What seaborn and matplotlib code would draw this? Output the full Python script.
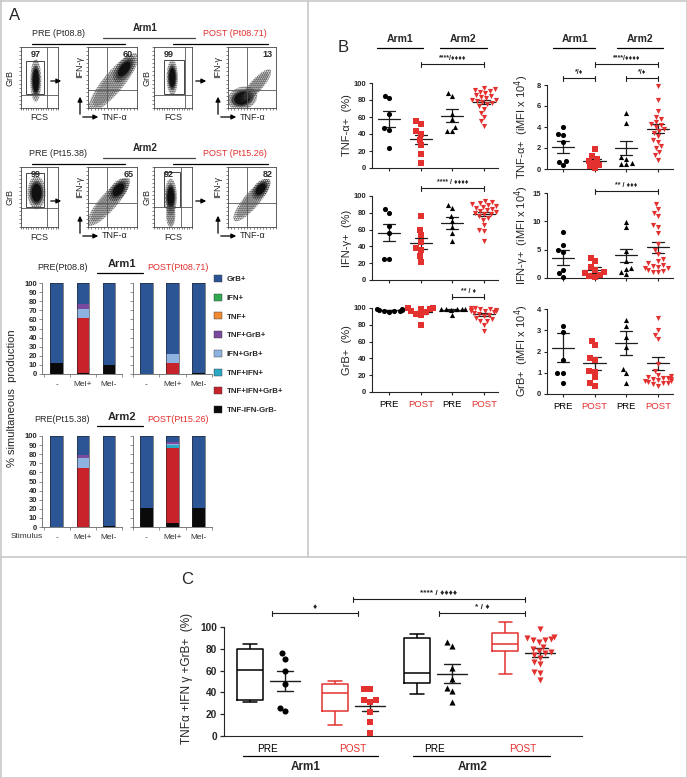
import numpy as np
import pandas as pd
import seaborn as sns
import matplotlib.pyplot as plt
from matplotlib.lines import Line2D
from matplotlib.patches import Ellipse, Rectangle, Patch, FancyArrowPatch
from matplotlib.transforms import blended_transform_factory

sns.set_style("ticks")
plt.rcParams["font.family"] = ["Liberation Sans", "DejaVu Sans"]
plt.rcParams["hatch.linewidth"] = 0.9
plt.rcParams["axes.linewidth"] = 0.8

W, H = 687, 778
RED = "#e2312e"
DARK = "#1e1e1e"
FRAME = "#c8c8c8"

# ---------------- data: panel A, flow plots ----------------
flow_pct_arm1 = [97, 60, 99, 13]
flow_pct_arm2 = [99, 65, 92, 82]
# event clouds: (x, y, width, height, angle, dense) in plot fractions
flow_pops_arm1 = [
    [(0.40, 0.45, 0.22, 0.48, 0, 1)],
    [(0.52, 0.42, 1.00, 0.26, 43, 0), (0.74, 0.64, 0.42, 0.20, 43, 1)],
    [(0.48, 0.50, 0.22, 0.40, 0, 1)],
    [(0.30, 0.16, 0.46, 0.26, 10, 1), (0.58, 0.36, 0.60, 0.16, 40, 0)],
]
flow_pops_arm2 = [
    [(0.42, 0.57, 0.36, 0.38, 0, 1)],
    [(0.42, 0.42, 0.85, 0.22, 42, 0), (0.62, 0.62, 0.36, 0.20, 40, 1)],
    [(0.44, 0.50, 0.24, 0.42, 0, 1), (0.44, 0.20, 0.18, 0.28, 0, 0)],
    [(0.50, 0.45, 0.75, 0.20, 42, 0), (0.68, 0.63, 0.32, 0.18, 40, 1)],
]
flow_quads_arm1 = [(0.69, 0.21), (0.38, 0.30), (0.82, 0.21), (0.39, 0.30)]
flow_quads_arm2 = [(0.69, 0.32), (0.38, 0.40), (0.72, 0.33), (0.39, 0.40)]
flow_gates_arm1 = [(0.14, 0.23, 0.62, 0.77), None, (0.27, 0.23, 0.80, 0.79), None]
flow_gates_arm2 = [(0.14, 0.33, 0.62, 0.90), None, (0.25, 0.34, 0.69, 0.92), None]

# ---------------- data: panel A, stacked bars ----------------
stimuli = ["-", "Mel+", "Mel-"]
subsets = ["TNF-IFN-GrB-", "TNF+IFN+GrB+", "TNF+IFN+", "IFN+GrB+",
           "TNF+GrB+", "TNF+", "IFN+", "GrB+"]
subset_colors = ["#0a0a0a", "#c8232b", "#2aa8c4", "#8fb3e0",
                 "#7b4a9e", "#f08a35", "#33a852", "#2b5595"]
bars_arm1_pre = [[12, 0, 0, 0, 0, 0, 0, 88], [1, 60, 0, 10, 6, 0, 0, 23], [10, 0, 0, 0, 0, 0, 0, 90]]
bars_arm1_post = [[0, 0, 0, 0, 0, 0, 0, 100], [0, 12, 0, 10, 0, 0, 0, 78], [1, 0, 0, 0, 0, 0, 0, 99]]
bars_arm2_pre = [[0, 0, 0, 0, 0, 0, 0, 100], [0, 65, 0, 11, 3, 0, 0, 21], [1, 0, 0, 0, 0, 0, 0, 99]]
bars_arm2_post = [[21, 0, 0, 0, 0, 0, 0, 79], [4, 83, 3, 1.5, 2, 0, 0, 6.5], [21, 0, 0, 0, 0, 0, 0, 79]]

# ---------------- data: panel B (PRE arm1, POST arm1, PRE arm2, POST arm2) ----------------
tnf_pct = [[85, 82, 64, 47, 45, 23],
           [55, 52, 43, 40, 33, 27, 17, 6],
           [88, 85, 64, 58, 48, 43, 43],
           [94, 93, 92, 91, 90, 88, 86, 85, 84, 82, 80, 80, 79, 78, 77, 75, 73, 70, 65, 60, 55, 50]]
tnf_pct_mean = [57.6, 33.7, 61.6, 78]
tnf_pct_sem = [9.8, 5.3, 7.8, 2.5]

tnf_mfi = [[4.0, 3.3, 3.2, 2.6, 0.8, 0.7, 0.4],
           [1.9, 1.2, 1.0, 0.8, 0.6, 0.4, 0.3, 0.1],
           [5.3, 4.4, 1.1, 1.0, 0.6, 0.5, 0.5],
           [7.9, 6.6, 5.5, 5.0, 4.8, 4.5, 4.3, 4.2, 4.0, 3.8, 3.6, 3.4, 3.1, 2.8, 2.6, 2.2, 2.0, 1.6, 1.3, 0.9]]
tnf_mfi_mean = [2.1, 0.75, 2.0, 3.85]
tnf_mfi_sem = [0.55, 0.2, 0.65, 0.45]

ifn_pct = [[84, 80, 64, 56, 25, 25],
           [76, 59, 53, 45, 38, 36, 28, 22],
           [89, 86, 76, 70, 63, 56, 47],
           [94, 93, 92, 90, 89, 88, 87, 86, 85, 83, 82, 81, 80, 79, 78, 76, 74, 72, 66, 60, 58, 46]]
ifn_pct_mean = [56.5, 43.5, 68, 79]
ifn_pct_sem = [10.5, 6.3, 7, 2.5]

ifn_mfi = [[8.2, 5.8, 4.9, 4.6, 1.5, 0.8, 0.2],
           [3.6, 3.0, 2.0, 1.4, 1.0, 0.9, 0.5, 0.3, 0.2],
           [9.9, 9.0, 4.8, 3.0, 1.8, 1.6, 1.0, 0.7],
           [13.0, 12.2, 11.5, 11.0, 9.3, 9.0, 7.9, 6.0, 4.9, 4.2, 3.3, 3.0, 2.6, 2.3, 2.1, 2.0, 1.8, 1.7, 1.5, 1.3, 1.1, 1.0]]
ifn_mfi_mean = [3.6, 1.4, 4.0, 5.4]
ifn_mfi_sem = [1.3, 0.5, 1.15, 0.95]

grb_pct = [[99, 99, 98, 98, 97, 97, 96, 95],
           [100, 100, 99, 99, 97, 95, 93, 92, 80],
           [99, 99, 99, 99, 99, 98, 92],
           [100, 100, 99, 99, 98, 98, 97, 97, 96, 95, 94, 93, 92, 90, 88, 87, 85, 84, 80, 73]]
grb_pct_mean = [97.5, 95, 97.7, 92.5]
grb_pct_sem = [0.5, 2, 1, 1.5]

grb_mfi = [[3.2, 2.9, 1.6, 1.0, 1.0, 0.5],
           [2.5, 2.3, 1.7, 1.6, 1.1, 1.05, 0.8, 0.5, 0.4],
           [3.5, 3.2, 2.7, 2.2, 1.2, 1.0, 0.5],
           [3.6, 3.0, 2.8, 2.6, 1.4, 1.1, 0.9, 0.85, 0.8, 0.75, 0.75, 0.7, 0.7, 0.65, 0.6, 0.6, 0.55, 0.5, 0.5, 0.45, 0.4]]
grb_mfi_mean = [2.18, 1.45, 2.39, 1.45]
grb_mfi_sem = [0.67, 0.31, 0.57, 0.3]

# ---------------- data: panel C ----------------
c_box = [[30.8, 33, 61, 79.6, 84],      # min, q1, median, q3, max
         [10, 22.9, 39.6, 47.6, 50.3],
         [38.4, 48.2, 58.2, 90.2, 93.3],
         [57.3, 77.7, 84.1, 94.5, 104.6]]
c_points = [[76, 71, 60, 48, 26, 23],
            [43, 43, 33, 33, 31, 22, 13, 3],
            [86, 83, 62, 52, 44, 41, 31],
            [98, 91, 90, 89, 88, 88, 86, 82, 80, 78, 77, 76, 74, 72, 68, 66, 59, 58, 51]]
c_mean = [50.6, 27.4, 57.3, 76.5]
c_sem = [9.1, 4.6, 8.4, 4.0]

groups = ["PRE1", "POST1", "PRE2", "POST2"]
group_labels = ["PRE", "POST", "PRE", "POST"]
markers = ["o", "s", "^", "v"]
colors = ["black", RED, "black", RED]

fig = plt.figure(figsize=(W / 100, H / 100), dpi=100)


def px_ax(x0, y0, x1, y1):
    return fig.add_axes([x0 / W, 1 - y1 / H, (x1 - x0) / W, (y1 - y0) / H])


def ftext(x, y, s, size=7, **kw):
    kw.setdefault("ha", "center")
    kw.setdefault("va", "center")
    fig.text(x / W, 1 - y / H, s, fontsize=size, **kw)


def fline(xs, ys, color="black", lw=0.9):
    fig.add_artist(Line2D([x / W for x in xs], [1 - y / H for y in ys], color=color, lw=lw))


def farrow(x0, y0, x1, y1):
    fig.add_artist(FancyArrowPatch((x0 / W, 1 - y0 / H), (x1 / W, 1 - y1 / H),
                                   transform=fig.transFigure, arrowstyle="-|>",
                                   mutation_scale=7, lw=0.9, color="black"))


def bracket(ax, x0, x1, ypx, label, size=5.5):
    tr = blended_transform_factory(ax.transData, fig.transFigure)
    y = 1 - ypx / H
    cap = 2.5 / H
    ax.plot([x0, x1], [y, y], color=DARK, lw=0.8, transform=tr, clip_on=False)
    for xx in (x0, x1):
        ax.plot([xx, xx], [y - cap, y + cap], color=DARK, lw=0.8, transform=tr, clip_on=False)
    ax.text((x0 + x1) / 2, y + 5.5 / H, label, transform=tr, ha="center", va="center",
            fontsize=size, fontweight="bold")


# ---------------- frames ----------------
fline([0.5, 686.5, 686.5, 0.5, 0.5], [0.5, 0.5, 777.5, 777.5, 0.5], color=FRAME, lw=1.2)
fline([308, 308], [0, 557], color=FRAME, lw=1.2)
fline([0, 687], [557, 557], color=FRAME, lw=1.2)
ftext(15, 15, "A", size=12)
ftext(343, 47, "B", size=12)
ftext(187, 579, "C", size=12)

# ---------------- panel A: flow plots ----------------
flow_x = [(21, 58), (88, 137), (154, 192), (228, 276)]


def flow_plot(box, pops, quad, gate, pct, pct_x):
    ax = px_ax(*box)
    ax.set_xlim(0, 1)
    ax.set_ylim(0, 1)
    for cx, cy, w, h, ang, dense in pops:
        ax.add_patch(Ellipse((cx, cy), w * 1.35, h * 1.45, angle=ang, facecolor="none",
                             edgecolor="#2a2a2a", hatch="........", lw=0))
        ax.add_patch(Ellipse((cx, cy), w * 1.1, h * 1.15, angle=ang, facecolor="#555555",
                             edgecolor="none", alpha=0.35))
        if dense:
            ax.add_patch(Ellipse((cx, cy), w, h, angle=ang, facecolor="#303030",
                                 edgecolor="none", alpha=0.75))
            ax.add_patch(Ellipse((cx, cy), w * 0.75, h * 0.8, angle=ang, facecolor="#101010",
                                 edgecolor="none"))
    ax.axvline(quad[0], color="#555555", lw=0.6)
    ax.axhline(quad[1], color="#555555", lw=0.6)
    if gate is not None:
        ax.add_patch(Rectangle((gate[0], gate[1]), gate[2] - gate[0], gate[3] - gate[1],
                               fill=False, edgecolor="#444444", lw=0.7))
    ax.text(pct_x, 0.87, str(pct), transform=ax.transAxes, fontsize=6.5,
            fontweight="bold", ha="center", va="center")
    ax.set_xticks(np.linspace(0, 1, 16))
    ax.set_yticks(np.linspace(0, 1, 16))
    ax.tick_params(length=1.2, width=0.4, labelbottom=False, labelleft=False)
    for s in ax.spines.values():
        s.set_linewidth(0.6)
        s.set_color("#444444")


def flow_row(top, bottom, pops, quads, gates, pcts, arm, pre_txt, post_txt):
    for k in range(4):
        flow_plot((flow_x[k][0], top, flow_x[k][1], bottom), pops[k], quads[k], gates[k],
                  pcts[k], 0.4 if k % 2 == 0 else 0.82)
    mid = (top + bottom) / 2
    for xg, xf in ((10, 39), (147, 173)):
        ftext(xg, mid, "GrB", size=6.5, rotation=90)
        ftext(xf, bottom + 10, "FCS", size=6.5)
    for xa in (48, 193):
        farrow(xa, top + 34, xa + 16, top + 34)
    for xi in (80, 218):
        ftext(xi, top + 20, "IFN-γ", size=6.5, rotation=90)
        farrow(xi, bottom + 9, xi, bottom - 14)
        farrow(xi, bottom + 9, xi + 21, bottom + 9)
        ftext(xi + 22, bottom + 9, "TNF-α", size=6.5, ha="left")
    ftext(58, top - 13, pre_txt, size=6.5)
    ftext(145, top - 19, arm, size=7, fontweight="bold")
    ftext(235, top - 13, post_txt, size=6.5, color=RED)
    fline([32, 125], [top - 3, top - 3])
    fline([103, 195], [top - 9, top - 9], color="#444444")
    fline([173, 268], [top - 3, top - 3])


flow_row(47, 108, flow_pops_arm1, flow_quads_arm1, flow_gates_arm1, flow_pct_arm1,
         "Arm1", "PRE (Pt08.8)", "POST (Pt08.71)")
flow_row(167, 227, flow_pops_arm2, flow_quads_arm2, flow_gates_arm2, flow_pct_arm2,
         "Arm2", "PRE (Pt15.38)", "POST (Pt15.26)")

# ---------------- panel A: stacked bars ----------------


def stack_panel(box, bars, xlim, show_ylabels):
    ax = px_ax(*box)
    bars = np.array(bars, float)
    bottom = np.zeros(len(stimuli))
    for j in range(len(subsets)):
        ax.bar(np.arange(len(stimuli)), bars[:, j], bottom=bottom, width=0.49,
               color=subset_colors[j], linewidth=0)
        bottom += bars[:, j]
    ax.bar(np.arange(len(stimuli)), bottom, width=0.49, fill=False, edgecolor="#222222", linewidth=0.4)
    ax.set_xlim(*xlim)
    ax.set_ylim(0, 100)
    ax.set_yticks(np.arange(0, 101, 10))
    ax.set_xticks(np.arange(len(stimuli)))
    ax.set_xticklabels(stimuli, fontsize=6, color="#333333")
    ax.set_xticks([-0.5, 0.5, 1.5, 2.5], minor=True)
    ax.tick_params(axis="x", which="major", length=0, pad=5)
    ax.tick_params(axis="x", which="minor", length=2.5, width=0.5, color="#666666")
    ax.tick_params(axis="y", length=2, width=0.5, pad=1.5, color="#666666")
    if show_ylabels:
        for t in ax.get_yticklabels():
            t.set_fontsize(5.5)
            t.set_fontweight("bold")
    else:
        ax.set_yticklabels([])
    sns.despine(ax=ax)
    for s in ("left", "bottom"):
        ax.spines[s].set_linewidth(0.6)
        ax.spines[s].set_color("#666666")
    return ax


for top, arm, bars_pre, bars_post, pre_txt, post_txt in (
        (283, "Arm1", bars_arm1_pre, bars_arm1_post, "PRE(Pt08.8)", "POST(Pt08.71)"),
        (436, "Arm2", bars_arm2_pre, bars_arm2_post, "PRE(Pt15.38)", "POST(Pt15.26)")):
    stack_panel((42, top, 122, top + 91), bars_pre, (-0.57, 2.45), True)
    stack_panel((133, top, 212, top + 91), bars_post, (-0.49, 2.49), False)
    ftext(62, top - 16, pre_txt, size=6.5)
    ftext(122, top - 19, arm, size=8, fontweight="bold")
    fline([97, 143], [top - 10, top - 10])
    ftext(178, top - 16, post_txt, size=6.5, color=RED)

ftext(27, 537, "Stimulus", size=6, color="#333333")
ftext(12, 398, "% simultaneous  production", size=8, rotation=90)

handles = [Patch(facecolor=c, edgecolor="#333333", linewidth=0.3) for c in subset_colors]
fig.legend(handles[::-1], subsets[::-1], loc="upper left", bbox_to_anchor=(214 / W, 1 - 275 / H),
           frameon=False, prop={"size": 5.7, "weight": "bold"}, handlelength=1.0,
           handleheight=1.0, handletextpad=0.6, labelspacing=1.32, borderaxespad=0, borderpad=0)

# ---------------- panel B ----------------


def dot_panel(box, values, means, sems, ylim, yticks, xlim, bottom_labels):
    ax = px_ax(*box)
    for i, vals in enumerate(values):
        df = pd.DataFrame({"group": groups[i], "value": vals})
        sns.swarmplot(data=df, x="group", y="value", order=groups, ax=ax, color=colors[i],
                      marker=markers[i], size=3.7, linewidth=0, warn_thresh=1)
    for i, (m, s) in enumerate(zip(means, sems)):
        ax.plot([i - 0.35, i + 0.35], [m, m], color=DARK, lw=0.9, clip_on=False)
        ax.plot([i, i], [m - s, m + s], color=DARK, lw=0.9, clip_on=False)
        for e in (m - s, m + s):
            ax.plot([i - 0.19, i + 0.19], [e, e], color=DARK, lw=0.9, clip_on=False)
    for coll in ax.collections:
        coll.set_clip_on(False)
    ax.set_xlim(*xlim)
    ax.set_ylim(*ylim)
    ax.set_yticks(yticks)
    ax.set(xlabel="", ylabel="")
    ax.set_xticks(range(4))
    if bottom_labels:
        ax.set_xticklabels(group_labels, fontsize=6.8)
        for t, c in zip(ax.get_xticklabels(), colors):
            t.set_color(c)
    else:
        ax.set_xticklabels([])
    ax.tick_params(axis="x", length=2.5, width=0.8, pad=3)
    ax.tick_params(axis="y", length=2.5, width=0.8, pad=1.5)
    for t in ax.get_yticklabels():
        t.set_fontsize(5.5)
        t.set_fontweight("bold")
    sns.despine(ax=ax)
    return ax


LX = (-0.55, 3.45)
RX = (-0.5, 3.47)
ax = dot_panel((372, 83, 498, 168), tnf_pct, tnf_pct_mean, tnf_pct_sem, (0, 100), range(0, 101, 20), LX, False)
bracket(ax, 1, 3, 64, "****/♦♦♦♦", size=5)
ax = dot_panel((547, 85, 673, 169), tnf_mfi, tnf_mfi_mean, tnf_mfi_sem, (0, 8), range(0, 9, 2), RX, False)
bracket(ax, 0, 1, 78, "*/♦", size=5)
bracket(ax, 1, 3, 64, "****/♦♦♦♦", size=5)
bracket(ax, 2, 3, 78, "*/♦", size=5)
ax = dot_panel((372, 196, 498, 280), ifn_pct, ifn_pct_mean, ifn_pct_sem, (0, 100), range(0, 101, 20), LX, False)
bracket(ax, 1, 3, 188, "**** / ♦♦♦♦", size=5)
ax = dot_panel((547, 193, 673, 278), ifn_mfi, ifn_mfi_mean, ifn_mfi_sem, (0, 15), range(0, 16, 5), RX, False)
bracket(ax, 1, 3, 191, "** / ♦♦♦", size=5)
ax = dot_panel((372, 308, 498, 392), grb_pct, grb_pct_mean, grb_pct_sem, (0, 100), range(0, 101, 20), LX, True)
bracket(ax, 2, 3, 297, "** / ♦", size=5)
ax = dot_panel((547, 309, 673, 394), grb_mfi, grb_mfi_mean, grb_mfi_sem, (0, 4), range(0, 5, 1), RX, True)

for x, y, s in ((347, 125, "TNF-α+  (%)"), (347, 238, "IFN-γ+  (%)"), (347, 350, "GrB+  (%)"),
                (522, 127, "TNF-α+  (iMFI x 10$^4$)"), (522, 235, "IFN-γ+  (iMFI x 10$^4$)"),
                (522, 351, "GrB+  (iMFI x 10$^4$)")):
    ftext(x, y, s, size=8, rotation=90)

for x0, x1 in ((377, 423), (440, 487), (553, 595), (617, 663)):
    fline([x0, x1], [48, 48])
for x, s in ((400, "Arm1"), (463, "Arm2"), (575, "Arm1"), (640, "Arm2")):
    ftext(x, 39, s, size=7.5, fontweight="bold")

# ---------------- panel C ----------------
box_x = [0, 2.43, 4.77, 7.29]
axc = px_ax(224, 627, 582, 736)
for i in range(4):
    sns.boxplot(x=np.full(len(c_box[i]), box_x[i]), y=c_box[i], native_scale=True, orient="x",
                whis=(0, 100), width=0.75, fill=False, color=colors[i], linewidth=1.1,
                showfliers=False, ax=axc)
    pos = box_x[i] + 1
    sns.swarmplot(x=np.full(len(c_points[i]), pos), y=c_points[i], native_scale=True, orient="x",
                  color=colors[i], marker=markers[i], size=4.4, linewidth=0, warn_thresh=1, ax=axc)
    m, s = c_mean[i], c_sem[i]
    axc.plot([pos - 0.43, pos + 0.43], [m, m], color=DARK, lw=1.0)
    axc.plot([pos, pos], [m - s, m + s], color=DARK, lw=1.0)
    for e in (m - s, m + s):
        axc.plot([pos - 0.23, pos + 0.23], [e, e], color=DARK, lw=1.0)
for art in axc.collections + axc.lines + axc.patches:
    art.set_clip_on(False)
axc.set_xlim(-0.743, 9.486)
axc.set_ylim(0, 100)
axc.set_yticks(range(0, 101, 20))
axc.set(xlabel="", ylabel="")
axc.set_xticks([b + 0.5 for b in box_x])
axc.set_xticklabels(group_labels, fontsize=7.2)
for t, c in zip(axc.get_xticklabels(), colors):
    t.set_color(c)
axc.tick_params(axis="x", length=0, pad=6)
axc.tick_params(axis="y", length=3, width=0.9, pad=2)
for t in axc.get_yticklabels():
    t.set_fontsize(7.3)
    t.set_fontweight("bold")
sns.despine(ax=axc)
bracket(axc, 0.63, 3.09, 613, "♦", size=6)
bracket(axc, 2.94, 7.86, 599, "**** / ♦♦♦♦", size=6)
bracket(axc, 5.4, 7.86, 613, "* / ♦", size=6)

ftext(187, 678, "TNFα +IFN γ +GrB+  (%)", size=8.5, rotation=90)
fline([243, 378], [756, 756])
fline([413, 550], [756, 756])
ftext(306, 767, "Arm1", size=8.5, fontweight="bold")
ftext(473, 767, "Arm2", size=8.5, fontweight="bold")

fig.savefig("out.png", dpi=100)
